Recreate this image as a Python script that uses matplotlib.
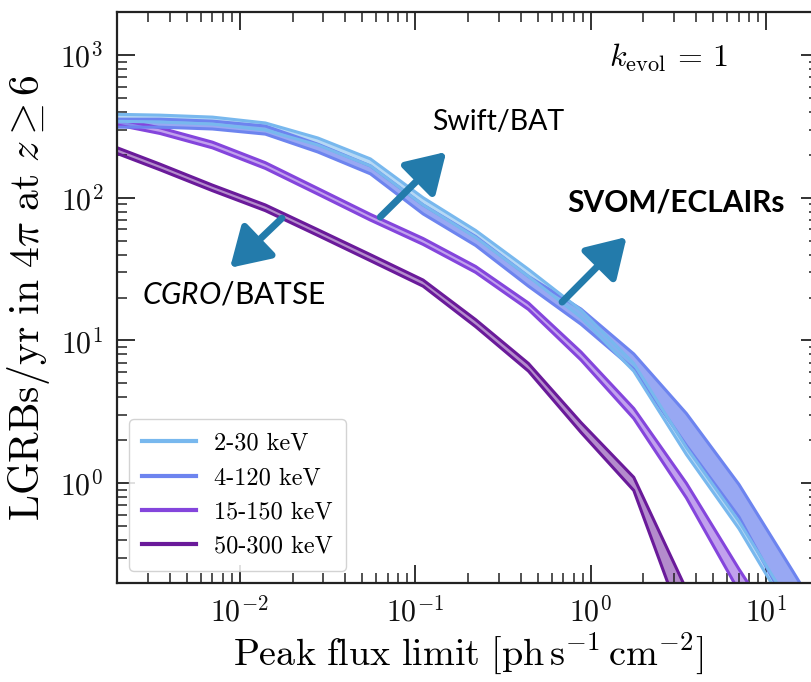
import matplotlib
matplotlib.use("Agg")
import matplotlib.pyplot as plt
import numpy as np
from matplotlib.ticker import LogLocator, FuncFormatter, NullFormatter

plt.rcParams["mathtext.fontset"] = "cm"
plt.rcParams["mathtext.rm"] = "Lato"
plt.rcParams["mathtext.it"] = "Lato:italic"
plt.rcParams["mathtext.bf"] = "Lato:bold"

# Peak flux limit grid [ph s^-1 cm^-2]
peak_flux = [0.00176, 0.00351, 0.0070, 0.0140, 0.0279, 0.0556, 0.111,
             0.221, 0.442, 0.881, 1.76, 3.51, 7.0, 14.0, 27.9]

# LGRB rates (lower / upper envelope) per energy band
rate_2_30_lo = [344, 339, 328, 298, 234, 167, 89, 52.7, 28.1, 14.5, 6.1, 1.59, 0.48, 0.115, 0.03]
rate_2_30_hi = [385, 379, 367, 334, 262, 187, 100, 59, 31.5, 16.3, 6.9, 1.78, 0.54, 0.135, 0.035]
rate_4_120_lo = [312, 312, 303, 279, 209, 147, 77, 46.3, 24, 13.0, 6.3, 1.84, 0.58, 0.122, 0.03]
rate_4_120_hi = [355, 355, 344, 318, 237, 167, 89, 53.5, 28.1, 16.6, 8.05, 3.08, 0.98, 0.248, 0.062]
rate_15_150_lo = [334, 282, 223.5, 160.5, 106, 69.7, 47.1, 30.0, 16.5, 7.3, 2.84, 0.79, 0.175, 0.042, 0.01]
rate_15_150_hi = [366, 309, 245, 176, 116, 76.4, 51.8, 33, 18.3, 8.3, 3.34, 1.0, 0.25, 0.067, 0.017]
rate_50_300_lo = [217, 157, 112, 81.2, 54.4, 36.2, 24.0, 12.5, 6.1, 2.27, 0.89, 0.089, 0.012, 0.002, 0.0005]
rate_50_300_hi = [238, 172, 122.5, 89, 59.7, 39.9, 26.5, 14.0, 6.9, 2.66, 1.10, 0.18, 0.03, 0.005, 0.001]

band_labels = ["2-30 keV", "4-120 keV", "15-150 keV", "50-300 keV"]
band_colors = ["#78b8ee", "#6d84ef", "#8445dc", "#6a1a9a"]
band_alpha = [0.55, 0.7, 0.5, 0.5]

fig = plt.figure(figsize=(8.12, 6.82), dpi=100)
ax = fig.add_axes([117 / 812, 99 / 682, 702 / 812, 571 / 682])

bands = [
    (rate_50_300_lo, rate_50_300_hi, 3),
    (rate_15_150_lo, rate_15_150_hi, 2),
    (rate_4_120_lo, rate_4_120_hi, 1),
    (rate_2_30_lo, rate_2_30_hi, 0),
]
for lo, hi, i in bands:
    c = band_colors[i]
    ax.fill_between(peak_flux, lo, hi, color=c, alpha=band_alpha[i], lw=0)
    ax.plot(peak_flux, lo, color=c, lw=2.2)
    ax.plot(peak_flux, hi, color=c, lw=2.2)

ax.set_xscale("log")
ax.set_yscale("log")
ax.set_xlim(2e-3, 20)
ax.set_ylim(0.2, 2000)

for axis in (ax.xaxis, ax.yaxis):
    axis.set_major_locator(LogLocator(base=10))
    axis.set_minor_locator(LogLocator(base=10, subs=np.arange(2, 10)))
    axis.set_minor_formatter(NullFormatter())
    axis.set_major_formatter(FuncFormatter(lambda v, p: r"$10^{%d}$" % round(np.log10(v))))

ax.tick_params(which="both", direction="in", top=True, right=True,
               colors="#222222", labelcolor="#111111")
ax.tick_params(which="major", length=13, width=1.3, labelsize=21.5, pad=10)
ax.tick_params(which="minor", length=7, width=1.1)
for s in ax.spines.values():
    s.set_linewidth(1.6)
    s.set_color("#222222")

ax.set_xlabel(r"$\mathrm{Peak\ flux\ limit\ [ph\,s^{-1}\,cm^{-2}]}$", fontsize=27.5, labelpad=2)
ax.set_ylabel(r"$\mathrm{LGRBs/yr\ in\ }4\pi\mathrm{\ at\ }z\geq 6$", fontsize=30, labelpad=6)

handles = [plt.Line2D([], [], color=c, lw=3) for c in band_colors]
leg = ax.legend(handles, band_labels, loc="lower left", bbox_to_anchor=(0.017, 0.021),
                borderaxespad=0, prop={"family": "cmr10", "size": 17.5},
                handlelength=2.2, handletextpad=0.75, labelspacing=0.5,
                fancybox=True, framealpha=0.85, edgecolor="#cccccc", borderpad=0.55)

ax.text(0.701, 0.919, r"$k_{\rm evol} \,=\, 1$", transform=ax.transAxes,
        fontsize=23, ha="left", va="center")

ax.text(0.449, 0.807, "Swift/BAT", transform=ax.transAxes, fontsize=20.5,
        family="Lato", ha="left", va="center")
ax.text(0.642, 0.667, "SVOM/ECLAIRs", transform=ax.transAxes, fontsize=21.5,
        family="Lato", weight="bold", ha="left", va="center")
ax.text(0.036, 0.504, r"$\mathit{CGRO}\mathrm{/BATSE}$", transform=ax.transAxes,
        fontsize=21.5, math_fontfamily="custom", ha="left", va="center")

arrow_color = "#237bab"
arrows = [((0.235, 0.639), (0.161, 0.552)),
          ((0.375, 0.641), (0.469, 0.755)),
          ((0.634, 0.492), (0.726, 0.606))]
for tail, tip in arrows:
    ax.annotate("", xy=tip, xytext=tail, xycoords="axes fraction",
                textcoords="axes fraction",
                arrowprops=dict(arrowstyle="-|>,head_length=0.9,head_width=0.55",
                                lw=5, color=arrow_color, mutation_scale=26,
                                shrinkA=0, shrinkB=0))

fig.savefig("out.png", dpi=100)
